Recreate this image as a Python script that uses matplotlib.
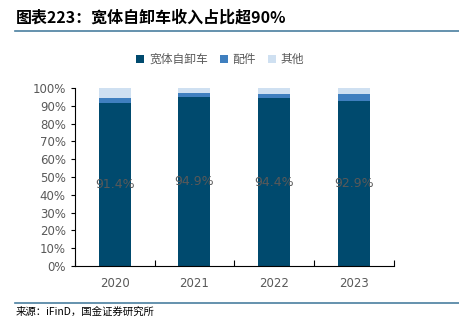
import matplotlib
matplotlib.use("Agg")
import matplotlib.pyplot as plt
import numpy as np
from matplotlib.lines import Line2D

plt.rcParams['font.family'] = ['Noto Sans CJK SC', 'DejaVu Sans']

# === DATA ===
years = ["2020", "2021", "2022", "2023"]
truck = [91.4, 94.9, 94.4, 92.9]      # 宽体自卸车
parts = [3.0, 2.5, 2.5, 3.5]          # 配件
other = [5.6, 2.6, 3.1, 3.6]          # 其他
series_names = ["宽体自卸车", "配件", "其他"]
colors = ["#004a6e", "#3f7fbf", "#cfe0f1"]
grey = "#595959"


def main():
    fig = plt.figure(figsize=(4.59, 3.26), dpi=100)
    ax = fig.add_axes([0.163, 0.184, 0.695, 0.546])

    x = np.arange(len(years))
    t = np.array(truck) / 100
    p = np.array(parts) / 100
    o = np.array(other) / 100
    w = 0.4

    ax.bar(x, t, w, color=colors[0], label=series_names[0])
    ax.bar(x, p, w, bottom=t, color=colors[1], label=series_names[1])
    ax.bar(x, o, w, bottom=t + p, color=colors[2], label=series_names[2])

    for xi, v in zip(x, truck):
        ax.text(xi, v / 200, f"{v:.1f}%", ha="center", va="center",
                fontsize=9, color=grey, family="DejaVu Sans")

    ax.set_xlim(-0.5, len(years) - 0.5)
    ax.set_ylim(0, 1)
    ax.set_yticks(np.linspace(0, 1, 11))
    ax.set_yticklabels([f"{i}%" for i in range(0, 101, 10)])
    ax.set_xticks(x)
    ax.set_xticklabels(years)
    ax.set_xticks(np.arange(-0.5, len(years), 1), minor=True)
    ax.tick_params(axis="x", which="major", length=0, pad=8, labelsize=8.5, labelcolor=grey)
    ax.tick_params(axis="x", which="minor", length=4, direction="in", width=0.8)
    ax.tick_params(axis="y", length=3, direction="out", width=0.8, labelsize=8.5, labelcolor=grey)
    for lbl in ax.get_xticklabels() + ax.get_yticklabels():
        lbl.set_family("DejaVu Sans")

    ax.spines["top"].set_visible(False)
    ax.spines["right"].set_visible(False)
    ax.spines["left"].set_linewidth(0.8)
    ax.spines["bottom"].set_linewidth(0.8)

    leg = fig.legend(loc="center", bbox_to_anchor=(0.48, 0.818), ncol=3, frameon=False,
                     fontsize=8.5, handlelength=0.7, handleheight=0.7, handletextpad=0.4,
                     columnspacing=1.0)
    for txt in leg.get_texts():
        txt.set_color(grey)

    # Title and rules
    fig.text(0.035, 0.945, "图表223：宽体自卸车收入占比超90%", fontsize=11.5,
             fontweight="bold", style="italic", va="center", ha="left")
    fig.add_artist(Line2D([0.033, 1.0], [0.905, 0.905], color="#4a7fa0", lw=1.2))
    fig.add_artist(Line2D([0.033, 1.0], [0.072, 0.072], color="#4a7fa0", lw=1.2))
    fig.text(0.035, 0.043, "来源：iFinD，国金证券研究所", fontsize=7.5, va="center", ha="left")

    fig.savefig("out.png", dpi=100)


if __name__ == "__main__":
    main()
